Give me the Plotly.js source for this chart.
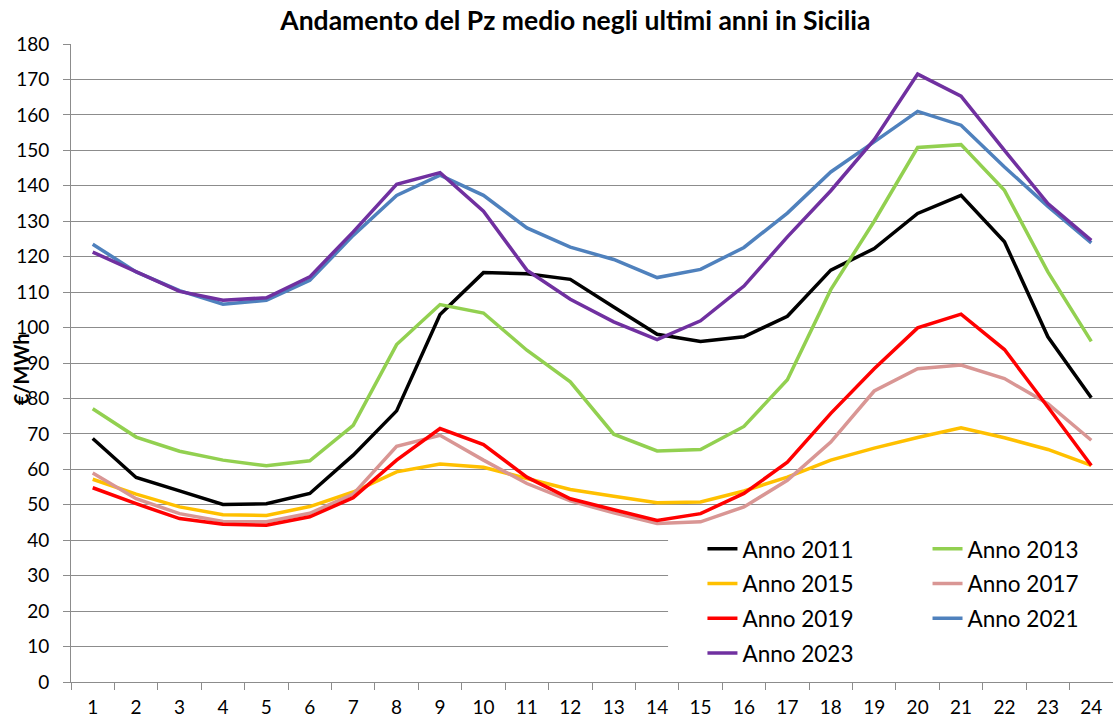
<!DOCTYPE html>
<html>
<head>
<meta charset="utf-8">
<script src="https://cdn.plot.ly/plotly-3.0.1.min.js"></script>
<style>html,body{margin:0;padding:0;background:#fff;}#chart{width:1113px;height:724px;}</style>
</head>
<body>
<div id="chart"></div>
<script>
const hours = ["1","2","3","4","5","6","7","8","9","10","11","12","13","14","15","16","17","18","19","20","21","22","23","24"];
const seriesNames = ["Anno 2011","Anno 2013","Anno 2015","Anno 2017","Anno 2019","Anno 2021","Anno 2023"];
const anno2011 = [68.7,57.7,53.9,50.1,50.3,53.2,64.0,76.5,103.7,115.5,115.2,113.6,105.8,98.1,96.1,97.4,103.2,116.2,122.3,132.2,137.3,124.2,97.4,80.2];
const anno2013 = [77.1,69.1,65.1,62.6,61.0,62.4,72.4,95.2,106.5,104.1,93.6,84.7,69.9,65.2,65.6,72.1,85.3,110.7,130.0,150.8,151.6,138.7,115.7,96.1];
const anno2015 = [57.2,53.0,49.4,47.2,47.0,49.5,53.6,59.3,61.5,60.6,57.4,54.3,52.4,50.6,50.8,53.9,57.8,62.6,66.0,69.0,71.7,68.9,65.6,61.1];
const anno2017 = [59.0,51.7,47.5,45.3,45.2,47.6,53.0,66.5,69.6,62.6,56.0,51.1,47.7,44.7,45.2,49.4,56.9,67.7,82.1,88.4,89.4,85.6,78.5,68.2];
const anno2019 = [54.8,50.3,46.1,44.5,44.2,46.6,52.0,62.6,71.5,67.0,57.8,51.7,48.6,45.6,47.5,53.2,62.0,75.8,88.4,99.9,103.8,93.8,77.6,61.1];
const anno2021 = [123.5,115.7,110.4,106.6,107.7,113.3,126.0,137.3,143.0,137.3,128.1,122.7,119.2,114.1,116.4,122.6,132.3,143.9,152.4,161.0,157.1,145.3,134.2,123.9];
const anno2023 = [121.3,115.7,110.2,107.7,108.4,114.3,127.0,140.4,143.7,132.8,116.2,108.0,101.6,96.6,101.9,111.7,125.6,138.6,153.0,171.5,165.3,150.0,135.0,124.6];

const seriesValues = [anno2011, anno2013, anno2015, anno2017, anno2019, anno2021, anno2023];
const colors = ["#000000","#92D050","#FFC000","#D99694","#FF0000","#4F81BD","#7030A0"];
const legendOf = ["legend","legend2","legend","legend2","legend","legend2","legend"];

const FONT = "Lato, Carlito, Calibri, 'DejaVu Sans', sans-serif";

const traces = seriesNames.map((name, i) => ({
  type: "scatter",
  mode: "lines",
  name: name,
  x: hours,
  y: seriesValues[i],
  line: {color: colors[i], width: 3.5},
  legend: legendOf[i],
  legendgroup: name,
  hoverinfo: "x+y+name"
}));

const legendCommon = {
  orientation: "v",
  bgcolor: "rgba(255,255,255,0)",
  borderwidth: 0,
  font: {family: FONT, size: 22.5, color: "#000"},
  tracegroupgap: 2.5,
  itemwidth: 30,
  xanchor: "left",
  yanchor: "top",
  y: 0.242
};

const layout = {
  width: 1113,
  height: 724,
  margin: {l: 71, r: 0, t: 44, b: 42, pad: 0},
  paper_bgcolor: "#ffffff",
  plot_bgcolor: "#ffffff",
  font: {family: FONT, size: 19, color: "#000"},
  title: {
    text: "Andamento del Pz medio negli ultimi anni in Sicilia",
    font: {family: FONT, size: 26.5, color: "#000", weight: "bold"},
    x: 0.517, xanchor: "center",
    y: 0.972, yref: "container", yanchor: "middle"
  },
  xaxis: {
    type: "category",
    range: [-0.5, 23.5],
    autorange: false,
    tickson: "boundaries",
    ticks: "outside",
    ticklen: 7,
    tickcolor: "#8c8c8c",
    tickwidth: 1,
    showline: true,
    linecolor: "#8c8c8c",
    linewidth: 1,
    showgrid: false,
    zeroline: false,
    tickfont: {family: FONT, size: 19, color: "#000"},
    ticklabelstandoff: 8
  },
  yaxis: {
    range: [0, 180],
    autorange: false,
    dtick: 10,
    tick0: 0,
    ticks: "outside",
    ticklen: 7,
    tickcolor: "#8c8c8c",
    showline: true,
    linecolor: "#8c8c8c",
    linewidth: 1,
    showgrid: true,
    gridcolor: "#8c8c8c",
    gridwidth: 1,
    zeroline: false,
    tickfont: {family: FONT, size: 19, color: "#000"},
    ticklabelstandoff: 10
  },
  legend: Object.assign({}, legendCommon, {x: 0.606}),
  legend2: Object.assign({}, legendCommon, {x: 0.822}),
  shapes: [{
    type: "rect", xref: "paper", yref: "paper",
    x0: 0.573, x1: 1.0, y0: 0.018, y1: 0.243,
    fillcolor: "#ffffff", line: {width: 0}, layer: "above"
  }],
  annotations: [{
    text: "€/MWh",
    xref: "paper", yref: "paper",
    x: -0.048, y: 0.49,
    xanchor: "center", yanchor: "middle",
    textangle: -90,
    showarrow: false,
    font: {family: FONT, size: 20, color: "#000", weight: "bold"}
  }],
  showlegend: true
};

Plotly.newPlot("chart", traces, layout, {displayModeBar: false, staticPlot: true});
</script>
</body>
</html>
